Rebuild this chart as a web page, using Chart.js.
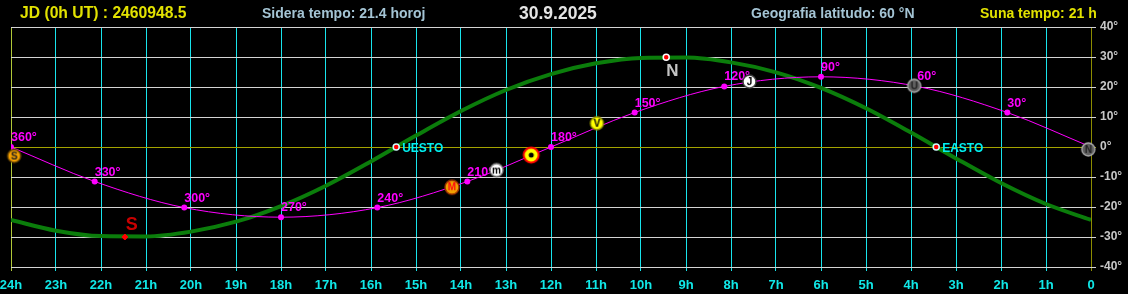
<!DOCTYPE html>
<html>
<head>
<meta charset="utf-8">
<script src="https://cdn.jsdelivr.net/npm/chart.js@4/dist/chart.umd.min.js"></script>
<style>
  body { margin: 0; background: #000; }
  #wrap { position: relative; width: 1128px; height: 294px; background: #000; }
  .hd { position: absolute; font-family: "Liberation Sans", Arial, sans-serif; font-weight: bold; white-space: nowrap; }
</style>
</head>
<body>
<div id="wrap">
  <canvas id="sky" width="1128" height="294"></canvas>
  <div class="hd" style="left:20px;top:5px;font-size:15.7px;line-height:15.7px;color:#e2e200">JD (0h UT) : 2460948.5</div>
  <div class="hd" style="left:262px;top:6px;font-size:14px;line-height:14px;color:#a4c4d4">Sidera tempo: 21.4 horoj</div>
  <div class="hd" style="left:519px;top:4.5px;font-size:17.5px;line-height:17.5px;color:#e4e4e4">30.9.2025</div>
  <div class="hd" style="left:751px;top:6px;font-size:14px;line-height:14px;color:#a4c4d4">Geografia latitudo: 60 °N</div>
  <div class="hd" style="left:980px;top:6px;font-size:14px;line-height:14px;color:#e2e200">Suna tempo: 21 h</div>
</div>
<script>
document.addEventListener('DOMContentLoaded', () => {
    // x axis: right ascension in hours, shown from 24h (left) down to 0 (right)
    const hourLabels = ['24h', '23h', '22h', '21h', '20h', '19h', '18h', '17h', '16h', '15h', '14h', '13h',
                        '12h', '11h', '10h', '9h', '8h', '7h', '6h', '5h', '4h', '3h', '2h', '1h', '0'];

    // horizon (green curve), declination read at every hour
    const horizonHours = [24, 23, 22, 21, 20, 19, 18, 17, 16, 15, 14, 13, 12, 11, 10, 9, 8, 7, 6, 5, 4, 3, 2, 1, 0];
    const horizonDec = [-24.3, -27.9, -29.7, -29.8, -28.2, -24.9, -19.7, -12.9, -4.8, 3.8, 12.0, 19.0,
                        24.3, 27.9, 29.7, 29.8, 28.2, 24.9, 19.7, 12.9, 4.8, -3.8, -12.0, -19.0, -24.3];

    // horizon points
    const pointNames = ['S', 'N', 'UESTO', 'EASTO'];
    const pointHours = [21.47, 9.44, 15.44, 3.44];
    const pointDec = [-30, 29.9, 0, 0];

    // ecliptic (magenta curve)
    const eclipticLon = [360, 330, 300, 270, 240, 210, 180, 150, 120, 90, 60, 30, 0];
    const eclipticHours = [24, 22.14, 20.15, 18, 15.86, 13.86, 12, 10.14, 8.15, 6, 3.86, 1.86, 0];
    const eclipticDec = [0, -11.5, -20.2, -23.4, -20.2, -11.5, 0, 11.5, 20.2, 23.4, 20.2, 11.5, 0];

    // planets
    const planetLetters = ['S', 'M', 'm', 'V', 'J', 'U', 'N'];
    const planetHours = [23.93, 14.2, 13.21, 10.98, 7.59, 3.93, 0.06];
    const planetDec = [-3.0, -13.4, -7.7, 7.9, 21.8, 20.4, -0.8];

    const sunHour = 12.44;
    const sunDec = -2.7;

    const FONT = '"Liberation Sans", Arial, sans-serif';

    function makeMarker(letter, fill, stroke, textColor, r) {
        const c = document.createElement('canvas');
        const s = Math.ceil(r * 2 + 4);
        c.width = s; c.height = s;
        const g = c.getContext('2d');
        g.beginPath();
        g.arc(s / 2, s / 2, r, 0, Math.PI * 2);
        g.fillStyle = fill;
        g.fill();
        g.lineWidth = 1.4;
        g.strokeStyle = stroke;
        g.stroke();
        g.fillStyle = textColor;
        g.font = 'bold 10px ' + FONT;
        g.textAlign = 'center';
        g.textBaseline = 'middle';
        g.fillText(letter, s / 2, s / 2 + 0.5);
        return c;
    }

    function makeSun() {
        const c = document.createElement('canvas');
        c.width = 20; c.height = 20;
        const g = c.getContext('2d');
        g.beginPath();
        g.arc(10, 10, 7.5, 0, Math.PI * 2);
        g.fillStyle = '#ffff00';
        g.fill();
        g.lineWidth = 2;
        g.strokeStyle = '#ff0000';
        g.stroke();
        g.beginPath();
        g.arc(10, 10, 2.5, 0, Math.PI * 2);
        g.fillStyle = '#000';
        g.fill();
        return c;
    }

    const planetStyles = [
        makeMarker(planetLetters[0], '#f5a000', '#6a4600', '#202020', 6.5),
        makeMarker(planetLetters[1], '#f0a000', '#a03000', '#ff1010', 7),
        makeMarker(planetLetters[2], '#ffffff', '#808080', '#000000', 6.5),
        makeMarker(planetLetters[3], '#ffff00', '#909000', '#000000', 6.5),
        makeMarker(planetLetters[4], '#ffffff', '#404040', '#000000', 6.5),
        makeMarker(planetLetters[5], '#606060', '#a8a8a8', '#202020', 6.5),
        makeMarker(planetLetters[6], '#606060', '#a8a8a8', '#202020', 6.5)
    ];

    const labelPlugin = {
        id: 'skyLabels',
        afterDatasetDraw(chart, args) {
            const ctx = chart.ctx;
            const xs = chart.scales.x, ys = chart.scales.y;
            const name = chart.data.datasets[args.index].label;
            ctx.save();
            if (name === 'ekliptiko') {
                ctx.font = 'bold 12.5px ' + FONT;
                ctx.fillStyle = '#ff00ff';
                ctx.textAlign = 'left';
                ctx.textBaseline = 'alphabetic';
                eclipticLon.forEach((lon, i) => {
                    if (lon === 0) return;
                    const px = xs.getPixelForValue(eclipticHours[i]);
                    const py = ys.getPixelForValue(eclipticDec[i]);
                    ctx.fillText(lon + '°', px, py - 6);
                });
            }
            if (name === 'punktoj') {
                pointNames.forEach((n, i) => {
                    const px = xs.getPixelForValue(pointHours[i]);
                    const py = ys.getPixelForValue(pointDec[i]);
                    ctx.textAlign = 'left';
                    ctx.textBaseline = 'alphabetic';
                    if (n === 'S') {
                        ctx.font = 'bold 18px ' + FONT;
                        ctx.fillStyle = '#c80000';
                        ctx.fillText(n, px + 1, py - 7);
                    } else if (n === 'N') {
                        ctx.font = 'bold 17px ' + FONT;
                        ctx.fillStyle = '#c4c4c4';
                        ctx.fillText(n, px, py + 18.5);
                    } else {
                        ctx.font = 'bold 12px ' + FONT;
                        ctx.fillStyle = '#00f0f0';
                        ctx.fillText(n, px + 6, py + 4.5);
                    }
                });
            }
            ctx.restore();
        }
    };

    const ctx = document.getElementById('sky').getContext('2d');
    new Chart(ctx, {
        type: 'scatter',
        data: {
            datasets: [
                {
                    label: 'suno',
                    data: [{x: sunHour, y: sunDec}],
                    pointStyle: makeSun(),
                    order: 0,
                    clip: false
                },
                {
                    label: 'planedoj',
                    data: planetHours.map((h, i) => ({x: h, y: planetDec[i]})),
                    pointStyle: planetStyles,
                    order: 1,
                    clip: false
                },
                {
                    label: 'punktoj',
                    data: pointHours.map((h, i) => ({x: h, y: pointDec[i]})),
                    pointStyle: ['rectRot', 'circle', 'circle', 'circle'],
                    pointRadius: [3, 3, 3, 3],
                    pointBackgroundColor: ['#ff0000', '#ff0000', '#ff0000', '#ff0000'],
                    pointBorderColor: ['#ff0000', '#ffffff', '#d0ffff', '#d0ffff'],
                    pointBorderWidth: [1, 1.5, 1.5, 1.5],
                    order: 2,
                    clip: false
                },
                {
                    label: 'ekliptiko',
                    data: eclipticHours.map((h, i) => ({x: h, y: eclipticDec[i]})),
                    showLine: true,
                    borderColor: '#ff00ff',
                    borderWidth: 1,
                    pointRadius: 3,
                    pointBackgroundColor: '#ff00ff',
                    pointBorderWidth: 0,
                    cubicInterpolationMode: 'monotone',
                    order: 3
                },
                {
                    label: 'horizonto',
                    data: horizonHours.map((h, i) => ({x: h, y: horizonDec[i]})),
                    showLine: true,
                    borderColor: '#0b7d0b',
                    borderWidth: 4,
                    pointRadius: 0,
                    cubicInterpolationMode: 'monotone',
                    order: 4
                }
            ]
        },
        options: {
            responsive: false,
            animation: false,
            events: [],
            layout: {padding: {left: 11, top: 27, right: 0, bottom: 0}},
            plugins: {legend: {display: false}, tooltip: {enabled: false}},
            scales: {
                x: {
                    type: 'linear',
                    reverse: true,
                    min: 0,
                    max: 24,
                    afterFit: (s) => { s.height = 27; s.paddingLeft = 0; s.paddingRight = 0; },
                    border: {display: false},
                    grid: {
                        color: (c) => c.tick.value === 0 ? '#8c8c00' : (c.tick.value === 24 ? '#b0c838' : '#18e4ec'),
                        lineWidth: 1,
                        tickLength: 4
                    },
                    ticks: {
                        stepSize: 1,
                        autoSkip: false,
                        maxRotation: 0,
                        padding: 6.5,
                        color: '#10e8e8',
                        font: {family: FONT, size: 13, weight: 'bold'},
                        callback: (v) => hourLabels[24 - v]
                    }
                },
                y: {
                    position: 'right',
                    min: -40,
                    max: 40,
                    afterFit: (s) => { s.width = 37; s.paddingTop = 0; s.paddingBottom = 0; },
                    border: {display: false},
                    grid: {
                        color: (c) => c.tick.value === 0 ? '#a4a400' : '#d4d4d4',
                        lineWidth: 1,
                        tickLength: 5
                    },
                    ticks: {
                        stepSize: 10,
                        padding: 4,
                        color: '#c8c8c8',
                        font: {family: FONT, size: 12, weight: 'bold'},
                        callback: (v) => v + '°'
                    }
                }
            }
        },
        plugins: [labelPlugin]
    });
});
</script>
</body>
</html>
